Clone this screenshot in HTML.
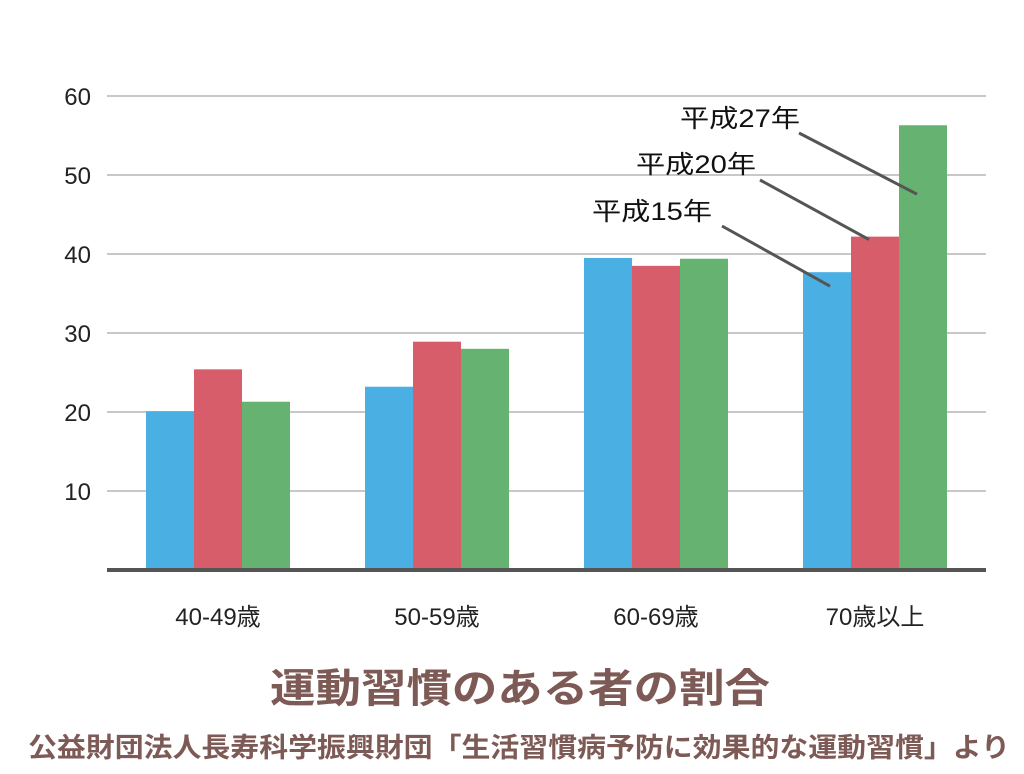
<!DOCTYPE html>
<html><head><meta charset="utf-8"><style>
html,body{margin:0;padding:0;background:#fff;}
svg{display:block;font-family:"Liberation Sans","Noto Sans CJK JP",sans-serif;}
</style></head><body>
<svg id="chart" width="1024" height="774" viewBox="0 0 1024 774" xmlns="http://www.w3.org/2000/svg">
<g id="grid"></g>
<g id="yticks"></g>
<g id="bars"></g>
<line x1="107" y1="570" x2="986" y2="570" stroke="#555" stroke-width="4"/>
<g id="xlabels"></g>
<g id="annotations"></g>
<text x="520" y="702" text-anchor="middle" font-size="40" font-weight="bold" fill="#7d5a55" textLength="500" lengthAdjust="spacingAndGlyphs">運動習慣のある者の割合</text>
<text x="28" y="757" font-size="27" font-weight="bold" fill="#7d5a55" textLength="982" lengthAdjust="spacingAndGlyphs">公益財団法人長寿科学振興財団「生活習慣病予防に効果的な運動習慣」より</text>
</svg>
<script>
const categories = ["40-49歳","50-59歳","60-69歳","70歳以上"];
const seriesNames = ["平成15年","平成20年","平成27年"];
const h15 = [20.1, 23.2, 39.5, 37.7];
const h20 = [25.4, 28.9, 38.5, 42.2];
const h27 = [21.3, 28.0, 39.4, 56.3];
const yTicks = [10, 20, 30, 40, 50, 60];

const NS = "http://www.w3.org/2000/svg";
const y0 = 570, pxPerUnit = 7.9;
function yScale(v){ return y0 - v * pxPerUnit; }
const groupStart = 146, groupStep = 219, barW = 48;
function xScale(gi, si){ return groupStart + gi * groupStep + si * barW; }
const colors = ["#4aafe3", "#d75d6b", "#66b271"];
const series = [h15, h20, h27];
function mk(tag, attrs, parent){ const e = document.createElementNS(NS, tag); for (const k in attrs) e.setAttribute(k, attrs[k]); parent.appendChild(e); return e; }

const grid = document.getElementById('grid'), yt = document.getElementById('yticks');
yTicks.forEach(t => {
  const l = mk('line', {x1:107, x2:986, y1:yScale(t), y2:yScale(t), stroke:'#c8c8c8', 'stroke-width':2}, grid);
  
  
  const tx = mk('text', {x:91, y:yScale(t)+9, 'text-anchor':'end', 'font-size':24, fill:'#222'}, yt);
  tx.textContent = t;
  
  
});
const bars = document.getElementById('bars');
series.forEach((s, si) => {
  s.forEach((v, gi) => {
    const r = mk('rect', {x:xScale(gi, si), y:yScale(v), width:barW, height:y0 - yScale(v), fill:colors[si]}, bars);
    
    
  });
});
const xl = document.getElementById('xlabels');
categories.forEach((c, gi) => {
  const t = mk('text', {x:xScale(gi, 1) + barW/2, y:625, 'text-anchor':'middle', 'font-size':24, fill:'#222'}, xl);
  t.textContent = c;
  
  
});
// annotations pointing to last group bars
const ann = document.getElementById('annotations');
const annText = [[592, 220], [636, 173], [680, 127]];
const annLineStart = [[722, 226], [760, 180], [799, 133]];
series.forEach((s, si) => {
  const t = mk('text', {x:annText[si][0], y:annText[si][1], 'font-size':25, fill:'#111', textLength:120, lengthAdjust:'spacingAndGlyphs'}, ann);
  t.textContent = seriesNames[si];
  
  
  const endX = xScale(3, si) + (si === 0 ? 27 : 18);
  const endY = yScale(s[3]) + (si === 0 ? 14 : 3 + (si === 2 ? 66 : 0));
  const l = mk('line', {x1:annLineStart[si][0], y1:annLineStart[si][1], x2:endX, y2:endY, stroke:'#555', 'stroke-width':3}, ann);
  
  
});
</script>
</body></html>
